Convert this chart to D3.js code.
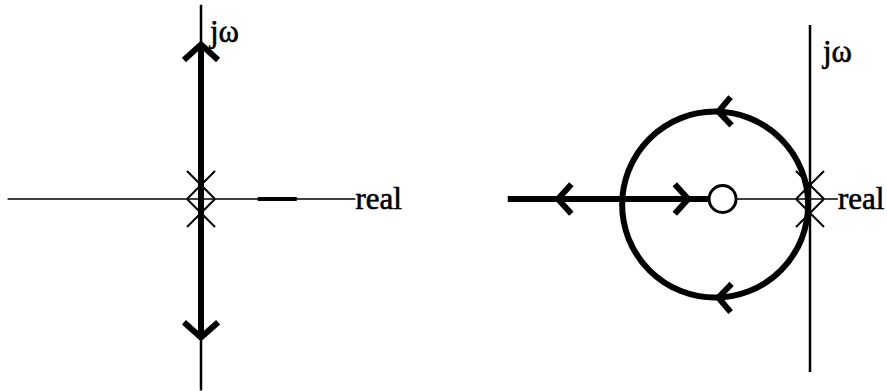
<!DOCTYPE html>
<html><head><meta charset="utf-8">
<script src="https://cdn.jsdelivr.net/npm/d3@7"></script>
<style>html,body{margin:0;background:#fff}svg{display:block}</style>
</head><body><svg id="chart" width="887" height="391"></svg>
<script>
// Root locus sketches in the s-plane (units: s-plane distance).
// Left: G(s) = K / s^2      Right: G(s) = K (s + a) / s^2

// ---- left plot ----
const leftPoles = [0, 0];               // double pole at the origin (real parts)
const leftLocusIm = [-1.49, 1.66];      // branches run up/down the jω axis
const leftAxisRe = [-2.08, 1.66];
const leftAxisIm = [-2.06, 2.09];
const leftRealSegment = [0.61, 1.03];

// ---- right plot ----
const rightPoles = [0, 0];
const rightZeros = [-0.94];
const rightCircle = [-1.02, -0.06, 1.0];   // centre re, centre im, radius
const rightRealLocus = [-3.25, -0.94];     // real-axis branch up to the zero
const rightAxisRe = [-0.94, 0.30];
const rightAxisIm = [-1.86, 1.87];
const rightRealArrows = [-2.71, -1.31];    // arrow tip positions
const rightRealArrowDirs = [-1, 1];        // -1 = points left, +1 = points right
const rightCircleArrowAngles = [88, -88];  // degrees around the circle centre

const axisLabels = ["jω", "real"];

const svg = d3.select("#chart");
const unit = 93;

function panel(originX, originY) {
  return {
    x: d3.scaleLinear().domain([0, 1]).range([originX, originX + unit]),
    y: d3.scaleLinear().domain([0, 1]).range([originY, originY - unit])
  };
}

function chevron(g, tx, ty, angleDeg, len, width) {
  // open arrowhead with tip at (tx,ty), pointing along angleDeg (screen coords)
  const a = angleDeg * Math.PI / 180, spread = 48 * Math.PI / 180;
  const p1 = [tx - len * Math.cos(a - spread), ty - len * Math.sin(a - spread)];
  const p2 = [tx - len * Math.cos(a + spread), ty - len * Math.sin(a + spread)];
  g.append("path")
    .attr("d", d3.line()([p1, [tx, ty], p2]))
    .attr("fill", "none").attr("stroke", "#000")
    .attr("stroke-width", width).attr("stroke-linejoin", "miter");
}

function poleMarks(g, s, poles) {
  const h = 14;
  poles.forEach((re, i) => {
    const off = poles.length > 1 ? (i === 0 ? -h : h) : 0;
    const cx = s.x(re), cy = s.y(0) + off;
    g.append("path")
      .attr("d", `M${cx - h},${cy - h}L${cx + h},${cy + h}M${cx - h},${cy + h}L${cx + h},${cy - h}`)
      .attr("stroke", "#000").attr("stroke-width", 2).attr("fill", "none");
  });
}

function label(g, text, x, y) {
  g.append("text").attr("x", x).attr("y", y).text(text)
    .attr("font-family", "'Liberation Serif', 'Times New Roman', serif")
    .attr("font-size", 31).attr("fill", "#000")
    .attr("stroke", "#000").attr("stroke-width", 0.6);
}

// ---------- left ----------
{
  const s = panel(201, 199);
  const g = svg.append("g");
  g.append("line")
    .attr("x1", s.x(leftAxisRe[0])).attr("x2", s.x(leftAxisRe[1]))
    .attr("y1", s.y(0)).attr("y2", s.y(0))
    .attr("stroke", "#000").attr("stroke-width", 1.6);
  g.append("line")
    .attr("x1", s.x(0)).attr("x2", s.x(0))
    .attr("y1", s.y(leftAxisIm[0])).attr("y2", s.y(leftAxisIm[1]))
    .attr("stroke", "#000").attr("stroke-width", 2.5);
  g.append("line")
    .attr("x1", s.x(leftRealSegment[0])).attr("x2", s.x(leftRealSegment[1]))
    .attr("y1", s.y(0)).attr("y2", s.y(0))
    .attr("stroke", "#000").attr("stroke-width", 3.8);
  g.append("line")
    .attr("x1", s.x(0)).attr("x2", s.x(0))
    .attr("y1", s.y(leftLocusIm[0])).attr("y2", s.y(leftLocusIm[1]))
    .attr("stroke", "#000").attr("stroke-width", 6);
  chevron(g, s.x(0), s.y(leftLocusIm[1]), -90, 23, 6);
  chevron(g, s.x(0), s.y(leftLocusIm[0]), 90, 23, 6);
  poleMarks(g, s, leftPoles);
  label(g, axisLabels[0], s.x(0) + 9, s.y(leftLocusIm[1]) - 3);
  label(g, axisLabels[1], s.x(leftAxisRe[1]), s.y(0) + 10);
}

// ---------- right ----------
{
  const s = panel(810, 199);
  const g = svg.append("g");
  g.append("line")
    .attr("x1", s.x(0)).attr("x2", s.x(0))
    .attr("y1", s.y(rightAxisIm[0])).attr("y2", s.y(rightAxisIm[1]))
    .attr("stroke", "#000").attr("stroke-width", 2.5);
  g.append("line")
    .attr("x1", s.x(rightAxisRe[0])).attr("x2", s.x(rightAxisRe[1]))
    .attr("y1", s.y(0)).attr("y2", s.y(0))
    .attr("stroke", "#000").attr("stroke-width", 1.7);
  g.append("line")
    .attr("x1", s.x(rightRealLocus[0])).attr("x2", s.x(rightRealLocus[1]))
    .attr("y1", s.y(0)).attr("y2", s.y(0))
    .attr("stroke", "#000").attr("stroke-width", 6);
  const cx = s.x(rightCircle[0]), cy = s.y(rightCircle[1]);
  const r = s.x(rightCircle[2]) - s.x(0);
  g.append("circle").attr("cx", cx).attr("cy", cy).attr("r", r)
    .attr("fill", "none").attr("stroke", "#000").attr("stroke-width", 6);
  rightRealArrows.forEach((re, i) => {
    chevron(g, s.x(re), s.y(0), rightRealArrowDirs[i] > 0 ? 0 : 180, 20, 6);
  });
  rightCircleArrowAngles.forEach(deg => {
    const a = deg * Math.PI / 180;
    const px = cx + r * Math.cos(a), py = cy - r * Math.sin(a);
    // tangent heading: counter-clockwise on top, clockwise on bottom (both leftward)
    const head = deg > 0 ? 180 - (90 - deg) : 180 + (90 + deg);
    chevron(g, px, py, head, 19, 6);
  });
  rightZeros.forEach(re => {
    g.append("circle").attr("cx", s.x(re)).attr("cy", s.y(0)).attr("r", 13.5)
      .attr("fill", "#fff").attr("stroke", "#000").attr("stroke-width", 3);
  });
  poleMarks(g, s, rightPoles);
  label(g, axisLabels[0], s.x(0) + 13, s.y(rightAxisIm[1]) + 37);
  label(g, axisLabels[1], s.x(rightAxisRe[1]) + 0, s.y(0) + 10);
}
</script></body></html>
